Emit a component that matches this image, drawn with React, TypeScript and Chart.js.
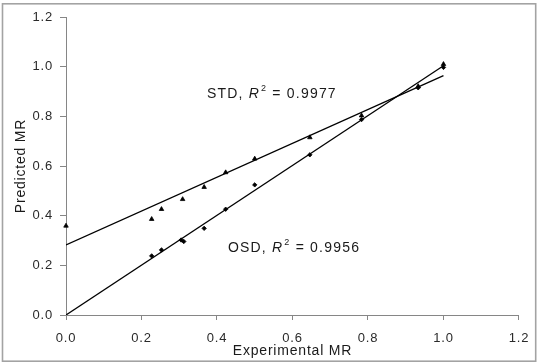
import React, { useEffect, useRef } from 'react';
import { Chart, registerables } from 'chart.js';

Chart.register(...registerables);

const FONT = '"Liberation Sans", Arial, sans-serif';

// STD (triangles)
const stdX = [0.0, 0.227, 0.253, 0.309, 0.366, 0.423, 0.5, 0.646, 0.783, 0.933, 1.0];
const stdY = [0.359, 0.386, 0.426, 0.466, 0.515, 0.574, 0.629, 0.715, 0.803, 0.921, 1.01];
// OSD (diamonds)
const osdX = [0.227, 0.253, 0.305, 0.312, 0.366, 0.423, 0.5, 0.646, 0.783, 0.933, 1.0];
const osdY = [0.238, 0.262, 0.302, 0.296, 0.349, 0.426, 0.524, 0.645, 0.787, 0.915, 0.997];
// Linear fits (end points)
const stdFitX = [0.0, 1.0];
const stdFitY = [0.282, 0.964];
const osdFitX = [0.0, 1.0];
const osdFitY = [0.0, 1.004];
// Ticks
const xTickValues = [0, 0.2, 0.4, 0.6, 0.8, 1.0, 1.2];
const yTickValues = [0, 0.2, 0.4, 0.6, 0.8, 1.0, 1.2];
// Annotations
const labelNames = ['STD', 'OSD'];
const labelR2 = ['0.9977', '0.9956'];
const labelX = [0.3735, 0.429];
const labelY = [0.891, 0.27];

const pts = (xs: number[], ys: number[]) => xs.map((x, i) => ({ x, y: ys[i] }));

const framePlugin = {
  id: 'frame',
  beforeDraw(chart: any) {
    const ctx = chart.ctx;
    ctx.save();
    ctx.fillStyle = '#ffffff';
    ctx.fillRect(0, 0, chart.width, chart.height);
    ctx.restore();
    (ctx as any).letterSpacing = '0.8px';
  },
  afterDraw(chart: any) {
    const ctx = chart.ctx;
    ctx.save();
    ctx.strokeStyle = '#a3a3a3';
    ctx.lineWidth = 1.6;
    ctx.strokeRect(2.5, 3.8, 533.2, 357.4);
    ctx.restore();
  },
};

const labelPlugin = {
  id: 'r2labels',
  afterDatasetsDraw(chart: any) {
    const { ctx, scales } = chart;
    const xs = scales.x;
    const ys = scales.y;
    ctx.save();
    (ctx as any).letterSpacing = '1.2px';
    ctx.fillStyle = '#1a1a1a';
    ctx.textBaseline = 'middle';
    ctx.textAlign = 'left';
    for (let i = 0; i < labelNames.length; i++) {
      let px = xs.getPixelForValue(labelX[i]);
      const py = ys.getPixelForValue(labelY[i]);
      ctx.font = `14px ${FONT}`;
      const a = `${labelNames[i]}, `;
      ctx.fillText(a, px, py);
      px += ctx.measureText(a).width;
      ctx.font = `italic 14px ${FONT}`;
      ctx.fillText('R', px, py);
      px += ctx.measureText('R').width + 1;
      ctx.font = `9px ${FONT}`;
      ctx.fillText('2', px, py - 5);
      px += ctx.measureText('2').width;
      ctx.font = `14px ${FONT}`;
      ctx.fillText(` = ${labelR2[i]}`, px, py);
    }
    ctx.restore();
  },
};

export default function App() {
  const ref = useRef<HTMLCanvasElement>(null);
  useEffect(() => {
    document.body.style.margin = '0';
    const chart = new Chart(ref.current as HTMLCanvasElement, {
      type: 'scatter',
      data: {
        datasets: [
          {
            label: 'STD',
            data: pts(stdX, stdY),
            pointStyle: 'triangle',
            pointRadius: 2.6,
            borderWidth: 0.8,
            backgroundColor: '#000',
            borderColor: '#000',
            clip: false,
          } as any,
          {
            label: 'OSD',
            data: pts(osdX, osdY),
            pointStyle: 'rectRot',
            pointRadius: 2.2,
            borderWidth: 0.8,
            backgroundColor: '#000',
            borderColor: '#000',
            clip: false,
          } as any,
          {
            label: 'STD fit',
            data: pts(stdFitX, stdFitY),
            showLine: true,
            pointRadius: 0,
            borderColor: '#000',
            borderWidth: 1.3,
          } as any,
          {
            label: 'OSD fit',
            data: pts(osdFitX, osdFitY),
            showLine: true,
            pointRadius: 0,
            borderColor: '#000',
            borderWidth: 1.3,
          } as any,
        ],
      },
      options: {
        responsive: false,
        animation: false,
        events: [],
        layout: { padding: { top: 17, right: 20, left: 0, bottom: 0 } },
        plugins: { legend: { display: false }, tooltip: { enabled: false } },
        scales: {
          x: {
            type: 'linear',
            min: 0,
            max: 1.2,
            afterBuildTicks: (s: any) => {
              s.ticks = xTickValues.map((v) => ({ value: v }));
            },
            afterFit: (s: any) => {
              s.height = 48;
            },
            ticks: {
              callback: (v: any) => Number(v).toFixed(1),
              font: { family: FONT, size: 13 },
              color: '#2a2a2a',
              padding: 11,
              maxRotation: 0,
              autoSkip: false,
            },
            grid: { drawOnChartArea: false, tickLength: 5, color: '#868686' },
            border: { color: '#868686', width: 1 },
            title: {
              display: true,
              text: 'Experimental MR',
              font: { family: FONT, size: 14 },
              color: '#1a1a1a',
              padding: { top: 0, bottom: 3.6 },
            },
          },
          y: {
            type: 'linear',
            min: 0,
            max: 1.2,
            afterBuildTicks: (s: any) => {
              s.ticks = yTickValues.map((v) => ({ value: v }));
            },
            afterFit: (s: any) => {
              s.width = 66;
            },
            ticks: {
              callback: (v: any) => Number(v).toFixed(1),
              font: { family: FONT, size: 13 },
              color: '#2a2a2a',
              padding: 7,
              autoSkip: false,
            },
            grid: { drawOnChartArea: false, tickLength: 6, color: '#868686' },
            border: { color: '#868686', width: 1 },
            title: {
              display: true,
              text: 'Predicted MR',
              font: { family: FONT, size: 14 },
              color: '#1a1a1a',
              padding: { top: 12.6, bottom: 0 },
            },
          },
        },
      } as any,
      plugins: [framePlugin, labelPlugin],
    });
    return () => chart.destroy();
  }, []);
  return (
    <div style={{ width: 539, height: 363 }}>
      <canvas ref={ref} width={539} height={363} style={{ display: 'block' }} />
    </div>
  );
}
